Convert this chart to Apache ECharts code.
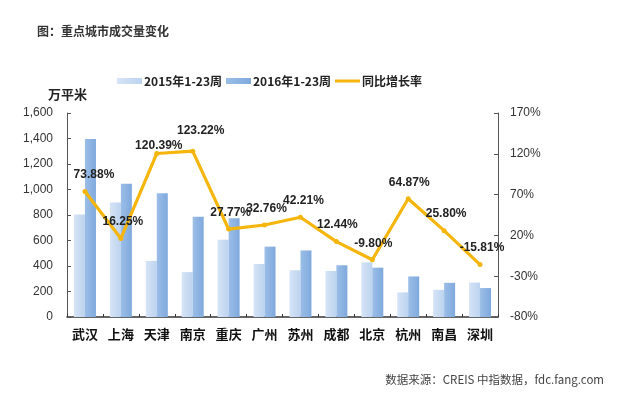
<!DOCTYPE html>
<html>
<head>
<meta charset="utf-8">
<script src="https://cdn.jsdelivr.net/npm/echarts@6/dist/echarts.min.js"></script>
<style>
  html, body { margin: 0; padding: 0; background: #fff; }
  #main { width: 620px; height: 399px; }
</style>
</head>
<body>
<div id="main"></div>
<script>
// 城市
var cities = ['武汉', '上海', '天津', '南京', '重庆', '广州', '苏州', '成都', '北京', '杭州', '南昌', '深圳'];
// 2015年1-23周 成交量（万平米）
var vol2015 = [803, 899, 440, 352, 606, 416, 367, 361, 429, 193, 213, 270];
// 2016年1-23周 成交量（万平米）
var vol2016 = [1396, 1045, 970, 786, 774, 552, 522, 406, 387, 318, 268, 227];
// 同比增长率 (%)
var growth = [73.88, 16.25, 120.39, 123.22, 27.77, 32.76, 42.21, 12.44, -9.80, 64.87, 25.80, -15.81];

// 标签微调（像素）
var labelOffsets = [[9, 0], [2, 0], [2, 9], [8, -4], [2, 0], [2, 0], [3, 0], [1, 0], [1, 0], [1, 0], [2, 0], [2, 0]];

var chart = echarts.init(document.getElementById('main'), null, { renderer: 'canvas' });

var cnFont = '"Noto Sans CJK SC", sans-serif';
var numFont = '"Liberation Sans", Arial, sans-serif';

function barGradient(c1, c2) {
  return new echarts.graphic.LinearGradient(0, 0, 1, 0, [
    { offset: 0, color: c1 },
    { offset: 1, color: c2 }
  ]);
}

var option = {
  backgroundColor: '#fff',
  animation: false,
  graphic: [
    {
      type: 'text', left: 37, top: 25,
      style: { text: '图：重点城市成交量变化', font: 'bold 12px ' + cnFont, fill: '#333' }
    },
    {
      type: 'text', right: 16, top: 374,
      style: { text: '数据来源：CREIS 中指数据，fdc.fang.com', font: '11.5px ' + cnFont, fill: '#444' }
    }
  ],
  legend: {
    left: 112,
    top: 70,
    itemWidth: 25,
    itemHeight: 6,
    itemGap: 4,
    textStyle: { fontFamily: cnFont, fontWeight: 'bold', fontSize: 12, color: '#222', padding: [0, 0, 0, -3] },
    data: [
      { name: '2015年1-23周', icon: 'rect' },
      { name: '2016年1-23周', icon: 'rect' },
      { name: '同比增长率', icon: 'path://M0,0h25v3h-25z' }
    ]
  },
  grid: { left: 67, right: 122, top: 113, bottom: 82 },
  xAxis: {
    type: 'category',
    data: cities,
    axisLine: { lineStyle: { color: '#333', width: 1.5 } },
    axisTick: { show: true, inside: true, length: 3, lineStyle: { color: '#333' } },
    axisLabel: { fontFamily: cnFont, fontWeight: 'bold', fontSize: 13, color: '#111', margin: 11 }
  },
  yAxis: [
    {
      type: 'value',
      name: '万平米',
      nameLocation: 'end',
      nameGap: 12,
      nameTextStyle: { fontFamily: cnFont, fontWeight: 'bold', fontSize: 13, color: '#222', align: 'left', padding: [0, 0, 0, -19] },
      min: 0, max: 1600, interval: 200,
      axisLine: { show: true, lineStyle: { color: '#555' } },
      axisTick: { show: true, inside: true, length: 4, lineStyle: { color: '#555' } },
      splitLine: { show: false },
      axisLabel: {
        fontFamily: numFont, fontSize: 12, color: '#333', margin: 14,
        formatter: function (v) { return v.toLocaleString('en-US'); }
      }
    },
    {
      type: 'value',
      min: -80, max: 170, interval: 50,
      axisLine: { show: true, lineStyle: { color: '#555' } },
      axisTick: { show: true, inside: true, length: 4, lineStyle: { color: '#555' } },
      splitLine: { show: false },
      axisLabel: { fontFamily: numFont, fontSize: 12, color: '#333', margin: 12, formatter: '{value}%' }
    }
  ],
  series: [
    {
      name: '2015年1-23周',
      type: 'bar',
      barWidth: 11,
      barGap: '0%',
      itemStyle: { color: barGradient('#D6E4F6', '#BCD3EF') },
      data: vol2015
    },
    {
      name: '2016年1-23周',
      type: 'bar',
      barWidth: 11,
      barGap: '0%',
      itemStyle: { color: barGradient('#9BBEE7', '#7FA9DD') },
      data: vol2016
    },
    {
      name: '同比增长率',
      type: 'line',
      yAxisIndex: 1,
      symbol: 'circle',
      symbolSize: 5,
      z: 5,
      lineStyle: { color: '#F5B50A', width: 3.2 },
      itemStyle: { color: '#F5B50A' },
      data: growth.map(function (v, i) {
        return {
          value: v,
          label: { offset: labelOffsets[i] }
        };
      }),
      label: {
        show: true,
        position: 'top',
        distance: 8,
        fontFamily: numFont,
        fontWeight: 'bold',
        fontSize: 12,
        color: '#222',
        formatter: function (p) { return p.value.toFixed(2) + '%'; }
      }
    }
  ]
};

chart.setOption(option);
</script>
</body>
</html>
